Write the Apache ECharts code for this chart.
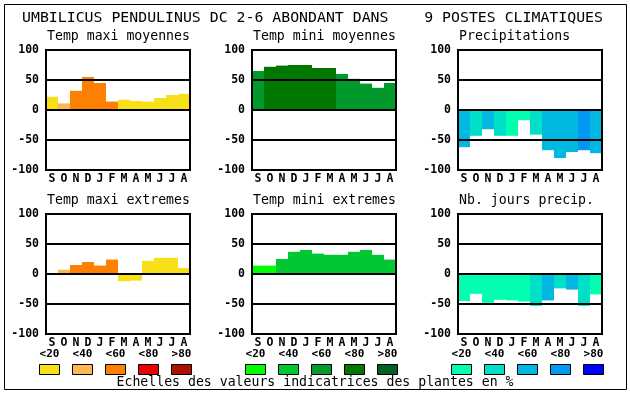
<!DOCTYPE html>
<html>
<head>
<meta charset="utf-8">
<script src="https://cdn.jsdelivr.net/npm/echarts@6/dist/echarts.min.js"></script>
<style>html,body{margin:0;padding:0;background:#fff;}#c{width:630px;height:394px;}</style>
</head>
<body>
<div id="c"></div>
<script>
const months = ['S','O','N','D','J','F','M','A','M','J','J','A'];
const yTicks = [-100, -50, 0, 50, 100];
const classLabels = ['<20','<40','<60','<80','>80'];

const warmColors = ['#f8e018','#ffb850','#ff8000','#ee0000','#b01000'];
const greenColors = ['#00ff00','#00c832','#009a2a','#007800','#006020'];
const blueColors = ['#00ffb0','#00e0c8','#00b8e0','#0098f0','#0000ff'];

const mainTitle = 'UMBILICUS PENDULINUS DC 2-6 ABONDANT DANS    9 POSTES CLIMATIQUES';
const footer = 'Echelles des valeurs indicatrices des plantes en %';

const panelTitles = ['Temp maxi moyennes','Temp mini moyennes','Precipitations',
                     'Temp maxi extremes','Temp mini extremes','Nb. jours precip.'];

const tmaxMoy     = [22, 11, 32, 55, 45, 14, 17, 15, 14, 20, 25, 27];
const tmaxMoyCls  = [0, 1, 2, 2, 2, 2, 0, 0, 0, 0, 0, 0];
const tminMoy     = [65, 72, 74, 75, 75, 70, 70, 60, 52, 44, 37, 45];
const tminMoyCls  = [2, 3, 3, 3, 3, 3, 3, 2, 2, 2, 2, 2];
const precip      = [-62, -43, -32, -43, -43, -17, -41, -67, -80, -70, -67, -72];
const precipCls   = [2, 1, 2, 1, 0, 0, 1, 2, 2, 2, 3, 2];
const tmaxExt     = [0, 7, 15, 20, 14, 24, -12, -11, 22, 27, 27, 10];
const tmaxExtCls  = [0, 1, 2, 2, 2, 2, 0, 0, 0, 0, 0, 0];
const tminExt     = [14, 14, 25, 37, 40, 34, 32, 32, 37, 40, 32, 24];
const tminExtCls  = [0, 0, 1, 1, 1, 1, 1, 1, 1, 1, 1, 1];
const nbJours     = [-45, -33, -48, -43, -44, -46, -53, -44, -24, -26, -53, -34];
const nbJoursCls  = [0, 0, 0, 0, 0, 0, 1, 2, 1, 2, 1, 0];

const panels = [
  {vals: tmaxMoy, cls: tmaxMoyCls, pal: warmColors},
  {vals: tminMoy, cls: tminMoyCls, pal: greenColors},
  {vals: precip, cls: precipCls, pal: blueColors},
  {vals: tmaxExt, cls: tmaxExtCls, pal: warmColors},
  {vals: tminExt, cls: tminExtCls, pal: greenColors},
  {vals: nbJours, cls: nbJoursCls, pal: blueColors}
];

const MONO = '"DejaVu Sans Mono", "Liberation Mono", monospace';
const colLeft = [46, 252, 458];
const rowTop = [50, 214];
const PW = 144, PH = 120;

const grids = [], xAxes = [], yAxes = [], series = [], graphics = [];

panels.forEach((p, i) => {
  const col = i % 3, row = Math.floor(i / 3);
  grids.push({left: colLeft[col], top: rowTop[row], width: PW, height: PH,
    show: true, borderColor: '#000', borderWidth: 2, backgroundColor: 'transparent', z: 10});
  xAxes.push({type: 'category', gridIndex: i, data: months, boundaryGap: true,
    axisLine: {show: false}, axisTick: {show: false}, splitLine: {show: false},
    axisLabel: {color: '#000', fontFamily: MONO, fontWeight: 'bold', fontSize: 11.5, margin: 3, interval: 0}});
  yAxes.push({type: 'value', gridIndex: i, min: yTicks[0], max: yTicks[yTicks.length-1], interval: 50, z: 10,
    axisLine: {show: false}, axisTick: {show: false},
    splitLine: {show: true, lineStyle: {color: '#000', width: 2}},
    axisLabel: {color: '#000', fontFamily: MONO, fontWeight: 'bold', fontSize: 11.5, margin: 7}});
  series.push({type: 'bar', xAxisIndex: i, yAxisIndex: i, barCategoryGap: 0, z: 2,
    data: p.vals.map((v, k) => ({value: v, itemStyle: {color: p.pal[p.cls[k]]}})),
    animation: false});
  graphics.push({type: 'text', left: colLeft[col] + 1, top: rowTop[row] - 20,
    style: {text: panelTitles[i], font: '13.2px ' + MONO, fill: '#000'}});
});

// Legend scales
const legendPals = [warmColors, greenColors, blueColors];
const legendStart = [39, 245, 451];
const legendStep = 33;
legendPals.forEach((pal, j) => {
  pal.forEach((c, k) => {
    const x = legendStart[j] + k * legendStep;
    graphics.push({type: 'rect', shape: {x: x + 0.5, y: 364.5, width: 20, height: 10},
      style: {fill: c, stroke: '#000', lineWidth: 1}});
    graphics.push({type: 'text', x: x + 10.5, y: 354.5,
      style: {text: classLabels[k], font: 'bold 11px ' + MONO, fill: '#000', textAlign: 'center', textVerticalAlign: 'middle'}});
  });
});

graphics.push({type: 'rect', shape: {x: 4.5, y: 4.5, width: 622, height: 385},
  style: {fill: 'none', stroke: '#000', lineWidth: 1}, z: -1});
graphics.push({type: 'text', x: 312.5, y: 18,
  style: {text: mainTitle, font: '14.85px ' + MONO, fill: '#000', textAlign: 'center', textVerticalAlign: 'middle'}});
graphics.push({type: 'text', x: 315, y: 383,
  style: {text: footer, font: '13.2px ' + MONO, fill: '#000', textAlign: 'center', textVerticalAlign: 'middle'}});

const chart = echarts.init(document.getElementById('c'), null, {renderer: 'canvas'});
chart.setOption({
  animation: false,
  backgroundColor: '#fff',
  grid: grids, xAxis: xAxes, yAxis: yAxes, series: series,
  graphic: graphics
});
</script>
</body>
</html>
